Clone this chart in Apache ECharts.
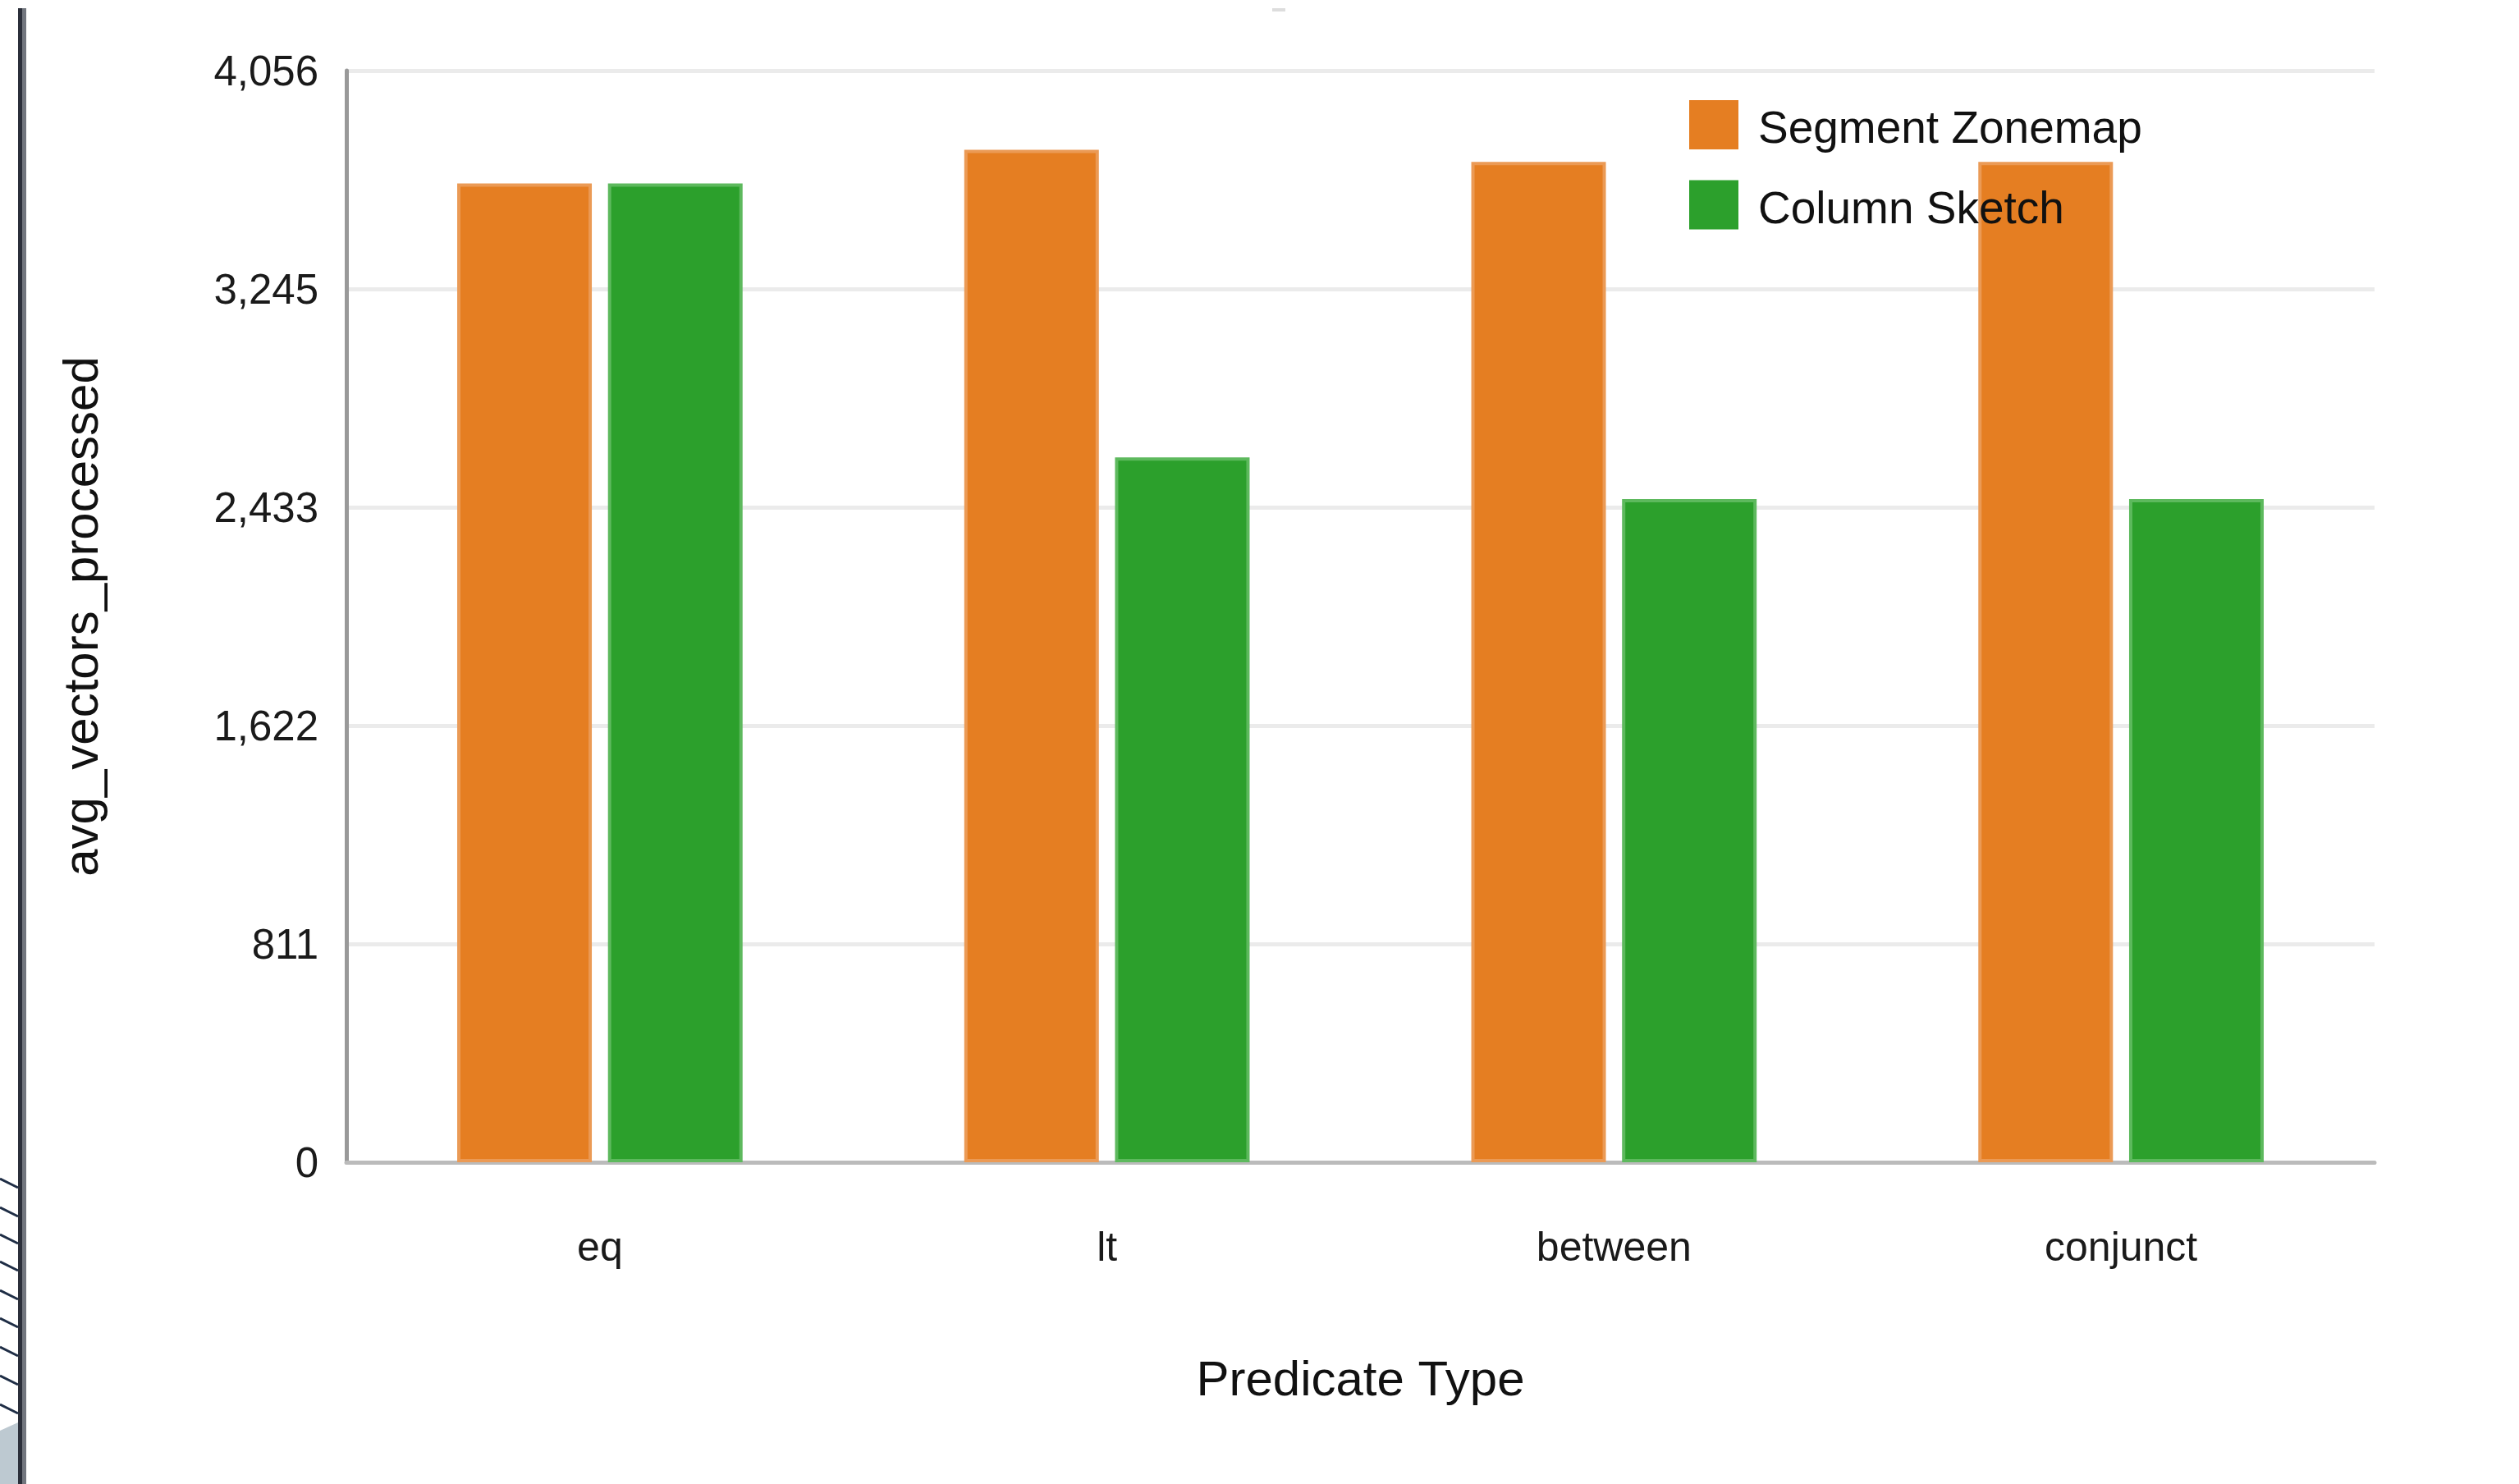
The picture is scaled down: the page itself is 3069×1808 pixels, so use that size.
<!DOCTYPE html>
<html>
<head>
<meta charset="utf-8">
<script src="https://cdn.jsdelivr.net/npm/echarts@6/dist/echarts.min.js"></script>
<style>
html,body{margin:0;padding:0;background:#fff;}
#chart{width:3069px;height:1808px;}
</style>
</head>
<body>
<div id="chart"></div>
<script>
// ---- data ----
var categories = ['eq', 'lt', 'between', 'conjunct'];
var seriesNames = ['Segment Zonemap', 'Column Sketch'];
var segmentZonemap = [3637, 3762, 3717, 3717];
var columnSketch = [3637, 2619, 2464, 2464];
var yTickLabels = ['0', '811', '1,622', '2,433', '3,245', '4,056'];
var yMax = 4056;
var yInterval = 811.2;

// ---- chart ----
var chart = echarts.init(document.getElementById('chart'), null, {renderer: 'canvas'});
var FONT = '"Liberation Sans", Arial, sans-serif';

// decorative screenshot edge (not data)
var deco = [];
deco.push({type: 'rect', shape: {x: 22, y: 10, width: 5, height: 1798}, style: {fill: '#2b2f3a'}, z: 100});
deco.push({type: 'rect', shape: {x: 27, y: 10, width: 5, height: 1798}, style: {fill: '#72767e'}, z: 100});
var hatchY = [1447, 1482, 1515, 1548, 1583, 1617, 1652, 1687, 1722];
hatchY.forEach(function (y) {
  deco.push({type: 'line', shape: {x1: 0, y1: y - 11, x2: 22, y2: y}, style: {stroke: '#1e2d45', lineWidth: 3}, z: 100});
});
deco.push({type: 'polygon', shape: {points: [[0, 1743], [22, 1733], [22, 1808], [0, 1808]]}, style: {fill: '#bdc9d1'}, z: 100});
deco.push({type: 'rect', shape: {x: 1550, y: 10, width: 16, height: 4}, style: {fill: '#dddddd'}, z: 100});

var option = {
  backgroundColor: '#ffffff',
  animation: false,
  textStyle: {fontFamily: FONT},
  graphic: deco,
  legend: {
    orient: 'vertical',
    left: 2053,
    top: 117,
    itemWidth: 60,
    itemHeight: 60,
    itemGap: 33,
    icon: 'rect',
    itemStyle: {borderWidth: 0},
    formatter: function (name) { return '{t|' + name + '}'; },
    textStyle: {
      fontFamily: FONT, fontSize: 55, color: '#111', padding: [0, 0, 0, 19],
      rich: {t: {fontFamily: FONT, fontSize: 55, color: '#111', padding: [14, 0, 0, 0]}}
    },
    data: seriesNames
  },
  grid: {left: 422, right: 176, top: 86, bottom: 392, containLabel: false},
  xAxis: {
    type: 'category',
    data: categories,
    name: 'Predicate Type',
    nameLocation: 'middle',
    nameGap: 237,
    nameTextStyle: {fontFamily: FONT, fontSize: 60, color: '#111'},
    axisLine: {show: true, lineStyle: {color: '#bbbbbb', width: 5}},
    axisTick: {show: false},
    axisLabel: {fontFamily: FONT, fontSize: 50, color: '#1a1a1a', margin: 81},
    splitLine: {show: false}
  },
  yAxis: {
    type: 'value',
    min: 0,
    max: yMax,
    interval: yInterval,
    name: 'avg_vectors_processed',
    nameLocation: 'middle',
    nameGap: 290,
    nameTextStyle: {fontFamily: FONT, fontSize: 60, color: '#111'},
    axisLine: {show: true, lineStyle: {color: '#999999', width: 5}},
    axisTick: {show: false},
    axisLabel: {
      fontFamily: FONT, fontSize: 51, color: '#1a1a1a', margin: 34,
      verticalAlign: 'top', lineHeight: 8,
      formatter: function (v) { return yTickLabels[Math.round(v / yInterval)]; }
    },
    splitLine: {show: true, lineStyle: {color: '#ebebeb', width: 5}}
  },
  series: [
    {
      name: seriesNames[0],
      type: 'bar',
      data: segmentZonemap,
      barWidth: 164,
      barGap: '12%',
      itemStyle: {color: '#e57e22', borderColor: '#eb9a55', borderWidth: 4}
    },
    {
      name: seriesNames[1],
      type: 'bar',
      data: columnSketch,
      barWidth: 164,
      barGap: '12%',
      itemStyle: {color: '#2ca02c', borderColor: '#5db95d', borderWidth: 4}
    }
  ]
};
chart.setOption(option);
</script>
</body>
</html>
